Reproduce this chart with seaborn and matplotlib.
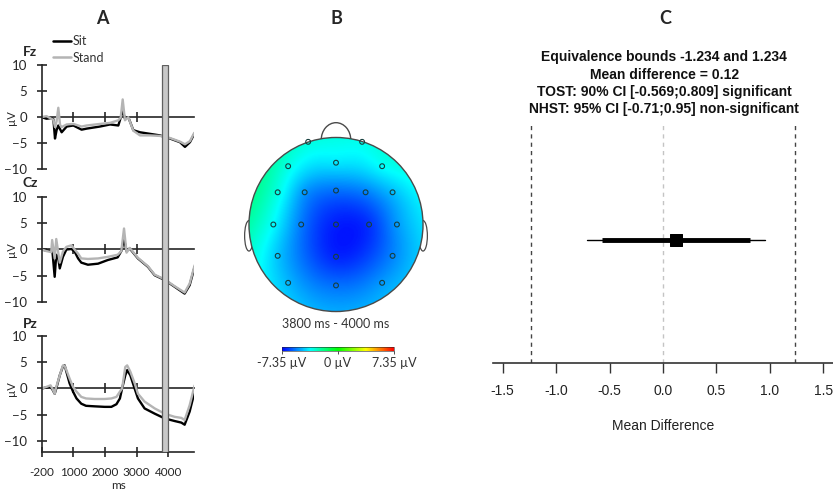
import numpy as np
import pandas as pd
import matplotlib
matplotlib.use("Agg")
import matplotlib.pyplot as plt
import seaborn as sns
from matplotlib.colors import LinearSegmentedColormap, Normalize
from matplotlib.cm import ScalarMappable
from matplotlib.lines import Line2D
from matplotlib.patches import Circle, Ellipse

# ---------------- panel A: ERP traces (uV) ----------------
conditions = ["Sit", "Stand"]
channels = ["Fz", "Cz", "Pz"]
time_ticks = [0, 1000, 2000, 3000, 4000]
time_tick_labels = ["-200", "1000", "2000", "3000", "4000"]
window = (3800, 4000)

t_fz = [0, 150, 300, 370, 420, 470, 525, 580, 630, 790, 1000, 1260, 1420, 1840, 2160,
        2420, 2495, 2558, 2630, 2735, 2894, 3105, 3420, 3736, 4052, 4367, 4525, 4683, 4820]
fz_sit = [0, -0.3, -0.2, -0.4, -4.1, -2.5, -1.6, -2.3, -2.9, -1.8, -1.6, -2.4, -2.2, -1.8, -1.4,
          -1.6, -0.1, 1.3, -0.3, 0.0, -2.5, -2.9, -3.2, -3.5, -4.1, -4.8, -5.7, -4.8, -3.2]
fz_stand = [0, 0.2, -0.3, -0.5, -1.9, -0.8, 1.8, -1.5, -1.9, -1.4, -1.3, -1.8, -1.6, -1.3, -1.1,
            -0.6, -0.1, 3.4, -0.6, 0.0, -2.6, -3.5, -3.5, -3.6, -4.0, -4.7, -5.2, -4.6, -3.0]

t_cz = [0, 150, 300, 330, 410, 460, 520, 570, 670, 780, 940, 1040, 1150, 1250, 1460, 1780,
        2090, 2400, 2515, 2600, 2680, 2780, 3040, 3357, 3568, 3884, 4200, 4515, 4673, 4831]
cz_sit = [0, -0.2, -0.3, 0.2, -5.2, -1.0, -1.5, -3.6, -1.4, 0.0, 0.1, -0.4, -1.7, -2.5, -2.9, -2.7,
          -2.0, -1.5, -0.3, 2.0, -0.3, 0.2, -1.7, -3.3, -4.9, -5.8, -7.1, -8.4, -6.8, -3.3]
cz_stand = [0, -0.3, -0.5, 1.8, -1.7, 2.0, -0.5, -2.5, -0.4, 0.5, 0.8, 0.0, -0.8, -1.7, -1.8, -1.7,
            -1.4, -1.0, -0.3, 4.0, -0.6, 0.3, -1.6, -3.2, -4.8, -5.7, -7.0, -8.2, -6.5, -3.0]

t_pz = [0, 150, 280, 350, 410, 460, 570, 670, 725, 780, 880, 990, 1100, 1250, 1400, 1670, 1990,
        2200, 2360, 2470, 2540, 2640, 2700, 2800, 2935, 3040, 3250, 3570, 3884, 4200, 4410, 4515,
        4673, 4831]
pz_sit = [0, 0.2, 0.3, -0.3, -1.0, 0.0, 2.5, 4.2, 4.4, 3.2, 1.0, -0.6, -1.9, -2.9, -3.3, -3.4, -3.5,
          -3.5, -3.0, -1.9, 0.0, 2.5, 3.5, 2.5, 0.0, -1.9, -3.8, -4.8, -5.7, -6.2, -6.5, -6.9,
          -4.4, -0.6]
pz_stand = [0, 0.3, 0.6, -0.2, -1.0, 0.3, 2.5, 4.4, 4.3, 3.5, 1.9, 0.3, -0.6, -1.6, -1.9, -2.0, -2.0,
            -1.9, -1.6, -0.6, 0.0, 4.1, 4.4, 3.2, 1.0, -1.0, -2.5, -3.8, -4.8, -5.4, -5.6, -6.0,
            -3.2, 0.6]

# ---------------- panel B: topography 3800-4000 ms ----------------
elec_x = [-0.32, 0.30, -0.55, 0.0, 0.53, -0.67, -0.36, 0.0, 0.34, 0.65, -0.72,
          -0.40, 0.0, 0.38, 0.70, -0.67, 0.0, 0.65, -0.55, 0.0, 0.53]
elec_y = [0.95, 0.95, 0.67, 0.71, 0.67, 0.37, 0.37, 0.39, 0.37, 0.37, 0.0,
          0.0, 0.0, 0.0, 0.0, -0.36, -0.37, -0.36, -0.67, -0.70, -0.67]
elec_uv = [-3.2, -3.4, -3.3, -4.0, -3.6, -3.3, -5.2, -5.7, -5.5, -4.6, -3.7,
           -5.6, -6.9, -6.6, -5.1, -4.5, -6.8, -5.4, -4.7, -5.7, -5.1]
topo_limit = 7.35

# ---------------- panel C: equivalence test ----------------
bounds = (-1.234, 1.234)
mean_diff = 0.12
tost_ci = (-0.569, 0.809)
nhst_ci = (-0.71, 0.95)
diff_ticks = [-1.5, -1.0, -0.5, 0.0, 0.5, 1.0, 1.5]


def tps_surface(x, y, v, gx, gy):
    # thin-plate spline through the electrode values
    pts = np.column_stack([x, y])
    n = len(pts)

    def kern(r):
        with np.errstate(divide="ignore", invalid="ignore"):
            out = r ** 2 * np.log(r)
        return np.nan_to_num(out)

    d = np.linalg.norm(pts[:, None, :] - pts[None, :, :], axis=2)
    P = np.column_stack([np.ones(n), pts])
    A = np.zeros((n + 3, n + 3))
    A[:n, :n] = kern(d)
    A[:n, n:] = P
    A[n:, :n] = P.T
    coef = np.linalg.solve(A, np.concatenate([v, np.zeros(3)]))
    g = np.column_stack([gx.ravel(), gy.ravel()])
    dg = np.linalg.norm(g[:, None, :] - pts[None, :, :], axis=2)
    z = kern(dg) @ coef[:n] + coef[n] + coef[n + 1] * g[:, 0] + coef[n + 2] * g[:, 1]
    return z.reshape(gx.shape)


sns.set_style("ticks")
plt.rcParams["font.family"] = ["Lato", "DejaVu Sans"]
plt.rcParams["axes.linewidth"] = 1.2

W, H = 833, 490
fig = plt.figure(figsize=(W / 100, H / 100), dpi=100)


def fax(left, top, right, bottom):
    return fig.add_axes([left / W, 1 - bottom / H, (right - left) / W, (bottom - top) / H])


# ---- panel A ----
rows = []
for ch, t, sit, stand in [("Fz", t_fz, fz_sit, fz_stand),
                          ("Cz", t_cz, cz_sit, cz_stand),
                          ("Pz", t_pz, pz_sit, pz_stand)]:
    for cond, vals in zip(conditions, [sit, stand]):
        rows.append(pd.DataFrame({"time": t, "uv": vals, "condition": cond, "channel": ch}))
erp = pd.concat(rows, ignore_index=True)
palette = {"Sit": "black", "Stand": "#b4b4b4"}

ax_left, ax_right = 41.7, 194.3
panel_rows = {"Fz": (65, 169.3), "Cz": (197, 302), "Pz": (336, 452)}
ylims = {"Fz": (-10, 10), "Cz": (-10, 10), "Pz": (-12.1, 10)}
label_y = {"Fz": 51.7, "Cz": 182.7, "Pz": 324}

for ch in channels:
    top, bottom = panel_rows[ch]
    ax = fax(ax_left, top, ax_right, bottom)
    sns.lineplot(data=erp[erp["channel"] == ch], x="time", y="uv", hue="condition",
                 hue_order=conditions, palette=palette, estimator=None, sort=True,
                 linewidth=1.7, legend=False, ax=ax)
    lo, hi = ylims[ch]
    ax.set_xlim(0, 4820)
    ax.set_ylim(lo, hi)
    ax.set_yticks([-10, -5, 0, 5, 10])
    ax.tick_params(axis="y", direction="inout", length=7, width=1.2, labelsize=9.5, pad=7)
    for s in ["top", "right"]:
        ax.spines[s].set_visible(False)
    ax.set_ylabel("µV", fontsize=8)
    ax.yaxis.set_label_coords(-0.165, -lo / (hi - lo))
    ax.set_xlabel("")

    zero = ax.secondary_xaxis(0, transform=ax.transData)
    zero.set_xticks(time_ticks[1:])
    zero.set_xticklabels([])
    zero.tick_params(direction="inout", length=7, width=1.2)
    zero.spines["bottom"].set_linewidth(1.2)

    if ch == "Pz":
        ax.set_xticks(time_ticks)
        ax.set_xticklabels(time_tick_labels)
        ax.tick_params(axis="x", direction="inout", length=7, width=1.2, labelsize=8.5, pad=7)
        ax.set_xlabel("ms", fontsize=8.5, labelpad=2)
    else:
        ax.spines["bottom"].set_visible(False)
        ax.set_xticks([])
    fig.text(30 / W, 1 - label_y[ch] / H, ch, fontsize=10, fontweight="bold",
             ha="center", va="center")

# grey analysis window spanning the three channels
ax_bar = fax(ax_left, 65, ax_right, 452)
ax_bar.set_xlim(0, 4820)
ax_bar.axvspan(*window, facecolor="#c8c8c8", edgecolor="#606060", linewidth=0.9)
ax_bar.axis("off")

handles = [Line2D([], [], color=palette[c], lw=1.8) for c in conditions]
fig.legend(handles, conditions, loc="upper left", bbox_to_anchor=(47 / W, 1 - 29 / H),
           frameon=False, fontsize=9, handlelength=1.4, handletextpad=0.15,
           labelspacing=0.35, borderpad=0, labelcolor="#333333")

# ---- panel B ----
topo_cmap = LinearSegmentedColormap.from_list(
    "topo", ["#0000ff", "#00ffff", "#00ff00", "#ffff00", "#ff0000"])
norm = Normalize(-topo_limit, topo_limit)

ax_t = fax(336 - 110, 224.5 - 110, 336 + 110, 224.5 + 110)
ax_t.set_xlim(-1.264, 1.264)
ax_t.set_ylim(-1.264, 1.264)
ax_t.axis("off")
grid = np.linspace(-1, 1, 241)
gx, gy = np.meshgrid(grid, grid)
surf = tps_surface(np.array(elec_x), np.array(elec_y), np.array(elec_uv), gx, gy)
head = Circle((0, 0), 1, facecolor="none", edgecolor="#4a4a4a", lw=1.0, zorder=4)
img = ax_t.imshow(surf, extent=(-1, 1, -1, 1), origin="lower", cmap=topo_cmap, norm=norm,
                  interpolation="bilinear", zorder=2)
img.set_clip_path(Circle((0, 0), 1, transform=ax_t.transData))
ax_t.add_patch(head)
ax_t.add_patch(Ellipse((0, 0.97), 0.34, 0.40, facecolor="white", edgecolor="#4a4a4a", lw=1.0, zorder=1))
for side in (-1, 1):
    ax_t.add_patch(Ellipse((side * 1.0, -0.13), 0.10, 0.35, facecolor="white",
                           edgecolor="#4a4a4a", lw=0.9, zorder=1))
sns.scatterplot(x=elec_x, y=elec_y, marker="o", s=12, facecolor="none",
                edgecolor="#17403f", linewidth=0.8, zorder=5, ax=ax_t, legend=False)

fig.text(336 / W, 1 - 324 / H, f"{window[0]} ms - {window[1]} ms", fontsize=9,
         ha="center", va="center", color="#333333")

cax = fax(282, 346.5, 394, 351)
cb = fig.colorbar(ScalarMappable(norm=norm, cmap=topo_cmap), cax=cax, orientation="horizontal")
cb.set_ticks([-topo_limit, 0, topo_limit],
             labels=[f"-{topo_limit} µV", "0 µV", f"{topo_limit} µV"])
cb.ax.tick_params(length=2, width=0.6, labelsize=9, pad=2, colors="#333333")
cb.outline.set_linewidth(0.4)

# ---- panel C ----
ax_c = fax(493, 118, 833, 363)
ax_c.set_xlim(-1.591, 1.59)
ax_c.set_ylim(0, 1)
for s in ["top", "right", "left"]:
    ax_c.spines[s].set_visible(False)
ax_c.spines["bottom"].set_color("#333333")
ax_c.set_yticks([])
ax_c.set_xticks(diff_ticks)
ax_c.set_xticklabels([f"{v:.1f}" for v in diff_ticks], family=["Liberation Sans"])
ax_c.tick_params(axis="x", length=7, width=1, pad=8, labelsize=10, colors="#333333",
                 labelcolor="#222222")
for b in bounds:
    ax_c.axvline(b, ymax=0.98, color="#444444", lw=1.0, ls=(0, (3, 3)))
ax_c.axvline(0, ymax=0.98, color="#c4c4c4", lw=1.0, ls=(0, (3, 3)))
ax_c.plot(nhst_ci, [0.5, 0.5], color="black", lw=1.0)
ax_c.plot(tost_ci, [0.5, 0.5], color="black", lw=3.5, solid_capstyle="butt")
sns.scatterplot(x=[mean_diff], y=[0.5], marker="s", s=80, color="black", edgecolor="black",
                zorder=5, ax=ax_c, legend=False)
ax_c.set_xlabel("Mean Difference", fontsize=10, family=["Liberation Sans"], labelpad=15,
                color="#222222")

title_lines = [
    f"Equivalence bounds {bounds[0]} and {bounds[1]}",
    f"Mean difference = {mean_diff}",
    f"TOST: 90% CI [{tost_ci[0]};{tost_ci[1]}] significant",
    f"NHST: 95% CI [{nhst_ci[0]};{nhst_ci[1]}] non-significant",
]
for i, line in enumerate(title_lines):
    fig.text(664 / W, 1 - (57.5 + 17.3 * i) / H, line, fontsize=10, fontweight="bold",
             family=["Liberation Sans"], ha="center", va="center", color="#111111")

for letter, x in [("A", 102), ("B", 336), ("C", 665)]:
    fig.text(x / W, 1 - 19 / H, letter, fontsize=13, fontweight="bold", ha="center", va="center")

fig.savefig("out.png", dpi=100)
